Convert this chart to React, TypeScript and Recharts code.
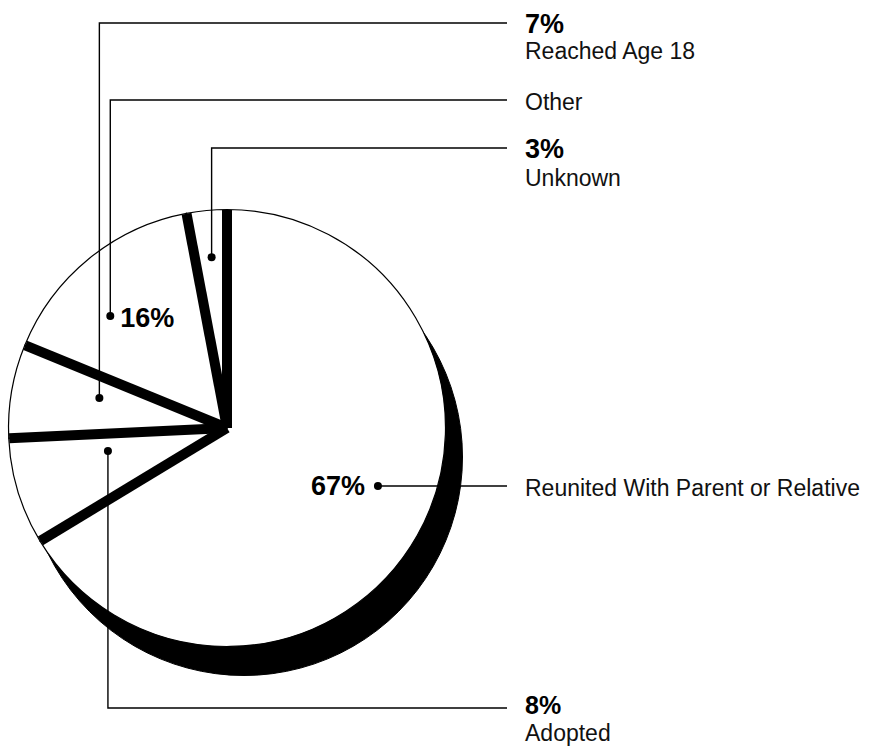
import type React from "react"
import { PieChart, Pie } from "recharts"

const categories = ["Reunited With Parent or Relative", "Adopted", "Reached Age 18", "Other", "Unknown"]
const shares = [67, 8, 7, 16, 3]

const data = categories.map((name, i) => ({ name, value: shares[i] }))

// callout per slice: dot nudged off the slice middle (deg, clockwise) at a fraction of the radius,
// height of the leader's elbow, where the percentage sits, and baseline offsets of the two text lines
const callouts = [
  { turn: -8.4, depth: 0.74, elbowY: null, pct: "left", lift: 10, gap: 0, size: 27 },
  { turn: 6.0, depth: 0.555, elbowY: 708, pct: "stack", lift: 6, gap: 27, size: 25 },
  { turn: 3.4, depth: 0.6, elbowY: 23, pct: "stack", lift: 10, gap: 26, size: 27 },
  { turn: -7.0, depth: 0.74, elbowY: 100, pct: "right", lift: 10, gap: 0, size: 27 },
  { turn: 0.2, depth: 0.785, elbowY: 148, pct: "stack", lift: 10, gap: 28, size: 27 },
]

const W = 873
const H = 748
const CX = 227
const CY = 428
const R = 218.5
const DROP_X = 17
const DROP_Y = 29
const LEAD_END = 507
const TEXT_X = 525
const FONT = "'Liberation Sans', Arial, Helvetica, sans-serif"
const RAD = Math.PI / 180

const polar = (cx: number, cy: number, r: number, a: number) => ({
  x: cx + r * Math.cos(-a * RAD),
  y: cy + r * Math.sin(-a * RAD),
})

const renderSlice = (props: any) => {
  const { cx, cy, outerRadius, startAngle, midAngle, index, value, payload } = props
  const c = callouts[index]
  const rim = polar(cx, cy, outerRadius - 0.5, startAngle)
  const dot = polar(cx, cy, outerRadius * c.depth, midAngle - c.turn)
  const y = c.elbowY ?? dot.y
  const pct = `${value}%`
  const bold = { fontFamily: FONT, fontWeight: 700, fontSize: c.size, fill: "#000" }
  const plain = { fontFamily: FONT, fontSize: 23, fill: "#111" }

  return (
    <g>
      {/* dark side wall showing between this slice and the previous one */}
      <line x1={cx} y1={cy} x2={rim.x} y2={rim.y} stroke="#000" strokeWidth={10} />
      <polyline
        points={`${dot.x},${dot.y} ${dot.x},${y} ${LEAD_END},${y}`}
        fill="none"
        stroke="#000"
        strokeWidth={1.4}
      />
      <circle cx={dot.x} cy={dot.y} r={4} fill="#000" />
      {c.pct === "stack" && (
        <>
          <text x={TEXT_X} y={y + c.lift} {...bold}>{pct}</text>
          <text x={TEXT_X} y={y + c.lift + c.gap} {...plain}>{payload.name}</text>
        </>
      )}
      {c.pct === "left" && (
        <>
          <text x={dot.x - 13} y={dot.y + 9.5} textAnchor="end" {...bold}>{pct}</text>
          <text x={TEXT_X} y={y + c.lift} {...plain}>{payload.name}</text>
        </>
      )}
      {c.pct === "right" && (
        <>
          <text x={dot.x + 10} y={dot.y + 10.5} {...bold}>{pct}</text>
          <text x={TEXT_X} y={y + c.lift} {...plain}>{payload.name}</text>
        </>
      )}
    </g>
  )
}

const App: React.FC = () => {
  return (
    <div style={{ position: "absolute", left: 0, top: 0, background: "#fff" }}>
      <PieChart width={W} height={H} margin={{ top: 0, right: 0, bottom: 0, left: 0 }}>
        {/* extruded edge of the disc */}
        <Pie
          data={[{ name: "base", value: 1 }]}
          dataKey="value"
          cx={CX + DROP_X}
          cy={CY + DROP_Y}
          outerRadius={R}
          fill="#000"
          stroke="#000"
          isAnimationActive={false}
        />
        <Pie
          data={data}
          dataKey="value"
          nameKey="name"
          cx={CX}
          cy={CY}
          outerRadius={R}
          startAngle={90}
          endAngle={-270}
          fill="#fff"
          stroke="#000"
          strokeWidth={1.2}
          label={renderSlice}
          labelLine={false}
          isAnimationActive={false}
        />
      </PieChart>
    </div>
  )
}

export default App
